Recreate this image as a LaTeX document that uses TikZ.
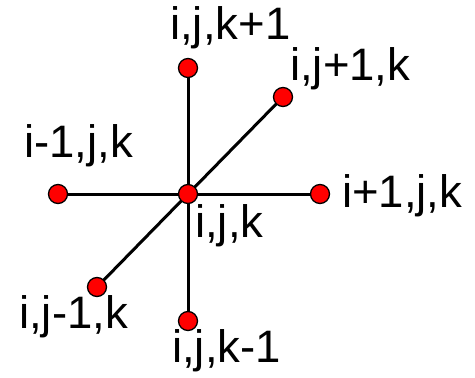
\documentclass[tikz,border=0pt]{standalone}
\usepackage{fontspec}
\setmainfont{Liberation Sans}
\begin{document}
\begin{tikzpicture}[x=1pt,y=-1pt,
  dot/.style={circle,fill=red,draw=black,line width=1.3pt,minimum size=19pt,inner sep=0pt},
  lbl/.style={anchor=base west,inner sep=0pt,font=\fontsize{45.5}{48}\selectfont},
  link/.style={line width=3pt,black}]
\useasboundingbox (0,0) rectangle (475,378);
\coordinate (c) at (188,194);
\coordinate (t) at (188,68);
\coordinate (jp) at (283,97);
\coordinate (l) at (58,194);
\coordinate (r) at (320,194);
\coordinate (jm) at (97,287);
\coordinate (b) at (188,321);
\draw[link] (c) -- (t);
\draw[link] (c) -- (jp);
\draw[link] (c) -- (l);
\draw[link] (c) -- (r);
\draw[link] (c) -- (jm);
\draw[link] (c) -- (b);
\node[dot] (nt) at (t) {};
\node[dot] (njp) at (jp) {};
\node[dot] (nl) at (l) {};
\node[dot] (nr) at (r) {};
\node[dot] (njm) at (jm) {};
\node[dot] (nb) at (b) {};
\node[dot] (nc) at (c) {};
\node[lbl] (lt) at (170,39) {i,j,k+1};
\node[lbl] (ljp) at (290,80) {i,j+1,k};
\node[lbl] (ll) at (24,157) {i-1,j,k};
\node[lbl] (lr) at (342,207) {i+1,j,k};
\node[lbl] (lc) at (195,237) {i,j,k};
\node[lbl] (ljm) at (19,328) {i,j-1,k};
\node[lbl] (lb) at (172,362) {i,j,k-1};
\end{tikzpicture}
\end{document}
